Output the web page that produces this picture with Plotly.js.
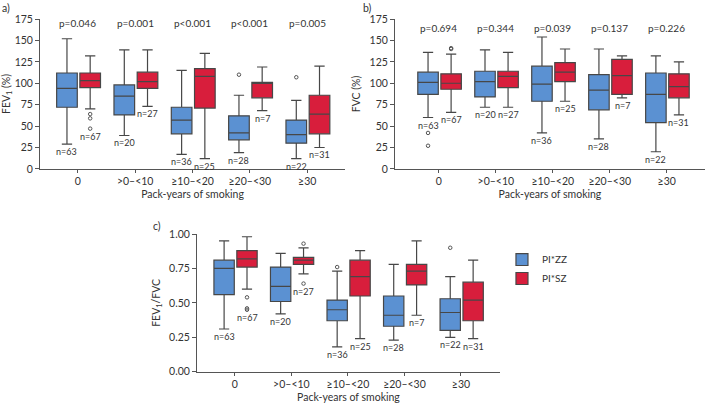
<!DOCTYPE html>
<html>
<head>
<meta charset="utf-8">
<script src="https://cdn.plot.ly/plotly-3.0.1.min.js"></script>
<style>
  html, body { margin: 0; padding: 0; background: #fff; }
  #grafico { width: 707px; height: 405px; }
</style>
</head>
<body>
<div id="grafico"></div>
<script>
// Box plots of lung function by pack-years of smoking, PI*ZZ vs PI*SZ
// Each row: [lower whisker, Q1, median, Q3, upper whisker]

const categories = ['0', '>0–<10', '≥10–<20', '≥20–<30', '≥30'];
const groupNames = ['PI*ZZ', 'PI*SZ'];
const nZZ = [63, 20, 36, 28, 22];
const nSZ = [67, 27, 25, 7, 31];

// a) FEV1 (%)
const fev1ZZ = [[29, 72, 94, 112, 152], [39, 63, 85, 98, 139], [17, 41, 57, 72, 115], [19, 34, 42, 62, 86], [12, 30, 40, 57, 80]];
const fev1SZ = [[70, 95, 103, 112, 132], [73, 94, 102, 113, 139], [12, 71, 108, 117, 135], [68, 83, 100, 101, 119], [25, 41, 64, 86, 120]];
const fev1ZZOut = [[], [], [], [110], [107]];
const fev1SZOut = [[64, 59, 47], [], [], [], []];
const fev1P = ['p=0.046', 'p=0.001', 'p<0.001', 'p<0.001', 'p=0.005'];

// b) FVC (%)
const fvcZZ = [[60, 87, 101, 113, 136], [72, 84, 102, 114, 139], [42, 79, 99, 120, 154], [35, 69, 92, 110, 140], [20, 54, 87, 112, 132]];
const fvcSZ = [[66, 93, 100, 111, 134], [72, 95, 108, 114, 136], [79, 102, 113, 124, 140], [83, 87, 109, 128, 132], [63, 83, 96, 111, 125]];
const fvcZZOut = [[42, 27], [], [], [], []];
const fvcSZOut = [[140, 141], [], [], [], []];
const fvcP = ['p=0.694', 'p=0.344', 'p=0.039', 'p=0.137', 'p=0.226'];

// c) FEV1/FVC
const ratioZZ = [[0.31, 0.56, 0.75, 0.81, 0.95], [0.42, 0.51, 0.62, 0.76, 0.86], [0.18, 0.37, 0.45, 0.52, 0.73], [0.23, 0.33, 0.41, 0.55, 0.78], [0.25, 0.30, 0.43, 0.53, 0.69]];
const ratioSZ = [[0.60, 0.76, 0.82, 0.88, 0.98], [0.71, 0.78, 0.81, 0.83, 0.90], [0.24, 0.55, 0.69, 0.81, 0.88], [0.41, 0.63, 0.73, 0.78, 0.95], [0.24, 0.37, 0.52, 0.65, 0.81]];
const ratioZZOut = [[], [], [0.76], [], [0.90]];
const ratioSZOut = [[0.54, 0.46, 0.45], [0.93, 0.64], [], [], []];
const ratioP = ['p<0.001', 'p<0.001', 'p<0.001', 'p=0.002', 'p=0.093'];

const colZZ = '#5b91d2';
const colSZ = '#d81e3c';
const lineCol = '#474747';
const offZZ = -0.19;
const offSZ = 0.215;
const boxW = 0.36;

function boxTrace(rows, off, color, name, xa, ya, showlegend) {
    return {
        type: 'box',
        orientation: 'v',
        x: categories.map((c, i) => i + off),
        lowerfence: rows.map(r => r[0]),
        q1: rows.map(r => r[1]),
        median: rows.map(r => r[2]),
        q3: rows.map(r => r[3]),
        upperfence: rows.map(r => r[4]),
        width: boxW,
        whiskerwidth: 0.5,
        fillcolor: color,
        line: { color: lineCol, width: 1.2 },
        boxpoints: false,
        name: name,
        legendgroup: name,
        showlegend: showlegend,
        xaxis: xa,
        yaxis: ya,
        hoverinfo: 'y'
    };
}

function outlierTrace(outs, off, xa, ya) {
    const xs = [], ys = [];
    outs.forEach((list, i) => list.forEach(v => { xs.push(i + off); ys.push(v); }));
    return {
        type: 'scatter',
        mode: 'markers',
        x: xs,
        y: ys,
        marker: { symbol: 'circle-open', size: 3.5, color: '#555', line: { width: 1 } },
        showlegend: false,
        xaxis: xa,
        yaxis: ya,
        hoverinfo: 'y'
    };
}

// n= label goes under the whisker, or under close low outliers
function nLabels(rows, outs, ns, off, xa, ya, span) {
    return rows.map((r, i) => {
        let low = r[0];
        const below = outs[i].filter(v => v < r[0]).sort((a, b) => b - a);
        if (below.length && (r[0] - below[0]) / span < 0.08) low = below[below.length - 1];
        return {
            x: i + off, y: low, xref: xa, yref: ya,
            text: 'n=' + ns[i], showarrow: false,
            yanchor: 'top', yshift: 0,
            font: { size: 9, color: '#333' }
        };
    });
}

function pLabels(ps, yv, xa, ya) {
    return ps.map((p, i) => ({
        x: i, y: yv, xref: xa, yref: ya,
        text: p, showarrow: false,
        font: { size: 10, color: '#333' }
    }));
}

const panels = [
    { zz: fev1ZZ, sz: fev1SZ, zo: fev1ZZOut, so: fev1SZOut, p: fev1P, xa: 'x', ya: 'y', span: 175, pY: 170 },
    { zz: fvcZZ, sz: fvcSZ, zo: fvcZZOut, so: fvcSZOut, p: fvcP, xa: 'x2', ya: 'y2', span: 175, pY: 165 },
    { zz: ratioZZ, sz: ratioSZ, zo: ratioZZOut, so: ratioSZOut, p: ratioP, xa: 'x3', ya: 'y3', span: 1, pY: 1.07 }
];

const data = [];
let annotations = [];
panels.forEach((pn, k) => {
    const leg = k === 2;
    data.push(boxTrace(pn.zz, offZZ, colZZ, groupNames[0], pn.xa, pn.ya, leg));
    data.push(boxTrace(pn.sz, offSZ, colSZ, groupNames[1], pn.xa, pn.ya, leg));
    data.push(outlierTrace(pn.zo, offZZ, pn.xa, pn.ya));
    data.push(outlierTrace(pn.so, offSZ, pn.xa, pn.ya));
    annotations = annotations.concat(
        nLabels(pn.zz, pn.zo, nZZ, offZZ, pn.xa, pn.ya, pn.span),
        nLabels(pn.sz, pn.so, nSZ, offSZ, pn.xa, pn.ya, pn.span),
        pLabels(pn.p, pn.pY, pn.xa, pn.ya)
    );
});

// panel letters
annotations.push(
    { x: 0, y: 1, xref: 'paper', yref: 'paper', text: 'a)', showarrow: false, xanchor: 'left', yanchor: 'top', font: { size: 10.5 } },
    { x: 0.511, y: 1, xref: 'paper', yref: 'paper', text: 'b)', showarrow: false, xanchor: 'left', yanchor: 'top', font: { size: 10.5 } },
    { x: 0.214, y: 0.462, xref: 'paper', yref: 'paper', text: 'c)', showarrow: false, xanchor: 'left', yanchor: 'top', font: { size: 10.5 } }
);

function xAxis(domain, range, anchor) {
    return {
        domain: domain, range: range, anchor: anchor,
        tickvals: categories.map((c, i) => i), ticktext: categories,
        showline: true, linecolor: '#555', linewidth: 1,
        ticks: 'outside', ticklen: 3, tickcolor: '#555',
        showgrid: false, zeroline: false,
        tickfont: { size: 10.5 },
        title: { text: 'Pack-years of smoking', font: { size: 10.5 }, standoff: 4 }
    };
}

function yAxis(domain, range, dtick, anchor, title, fmt) {
    return {
        domain: domain, range: range, anchor: anchor,
        dtick: dtick, tick0: 0, tickformat: fmt,
        showline: true, linecolor: '#555', linewidth: 1,
        ticks: 'outside', ticklen: 4, tickcolor: '#555',
        showgrid: false, zeroline: false,
        tickfont: { size: 10.5 },
        title: { text: title, font: { size: 10.5 }, standoff: 6 }
    };
}

const layout = {
    width: 707,
    height: 405,
    margin: { l: 0, r: 0, t: 0, b: 0 },
    paper_bgcolor: '#fff',
    plot_bgcolor: '#fff',
    font: { family: 'Lato, sans-serif', size: 10, color: '#333' },
    boxmode: 'overlay',
    showlegend: true,
    legend: {
        x: 0.71, y: 0.395, xanchor: 'left', yanchor: 'top',
        font: { size: 10 }, bgcolor: 'rgba(0,0,0,0)', tracegroupgap: 0
    },
    xaxis: xAxis([0.0566, 0.488], [-0.66, 4.66], 'y'),
    yaxis: yAxis([0.583, 0.953], [0, 175], 25, 'x', 'FEV<sub>1</sub> (%)', ''),
    xaxis2: xAxis([0.5587, 0.997], [-0.77, 4.67], 'y2'),
    yaxis2: yAxis([0.583, 0.953], [0, 175], 25, 'x2', 'FVC (%)', ''),
    xaxis3: xAxis([0.2786, 0.7072], [-0.67, 4.69], 'y3'),
    yaxis3: yAxis([0.0822, 0.4222], [0, 1], 0.25, 'x3', 'FEV<sub>1</sub>/FVC', '.2f'),
    annotations: annotations,
    hovermode: 'closest'
};

Plotly.newPlot('grafico', data, layout, { displayModeBar: false, staticPlot: true });
</script>
</body>
</html>
